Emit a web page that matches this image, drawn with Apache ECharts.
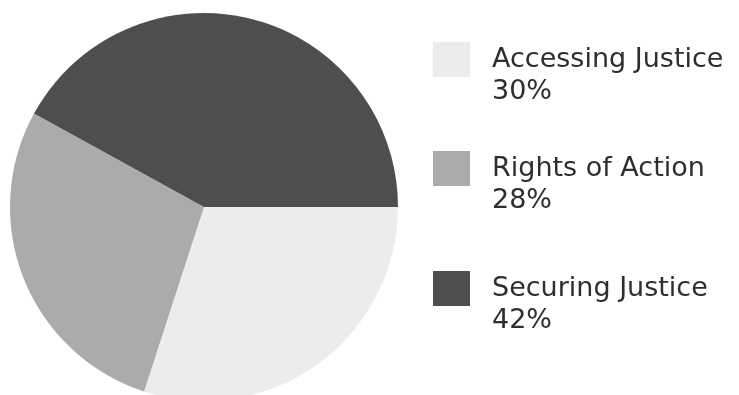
<!DOCTYPE html>
<html>
<head>
<meta charset="utf-8">
<script src="https://cdn.jsdelivr.net/npm/echarts@6/dist/echarts.min.js"></script>
<style>html,body{margin:0;padding:0;background:#fff}#c{width:739px;height:395px}</style>
</head>
<body>
<div id="c"></div>
<script>
const categories = ['Accessing Justice', 'Rights of Action', 'Securing Justice'];
const values = [30, 28, 42];
const colors = ['#ececec', '#ababab', '#4e4e4e'];

const chart = echarts.init(document.getElementById('c'), null, {renderer: 'canvas'});
const pctOf = {};
categories.forEach((c, i) => { pctOf[c] = values[i] + '%'; });

const FONT = 'DejaVu Sans';
const legendTops = [9, 118, 238];
const richStyle = {
  b: {fontSize: 27, lineHeight: 32, fontFamily: FONT, padding: [0,0,0,17]},
  n: {fontSize: 27, lineHeight: 32, fontFamily: FONT, color: '#2e2e2e', padding: [0,0,0,17]},
  p: {fontSize: 27, lineHeight: 32, fontFamily: FONT, color: '#2e2e2e', padding: [0,0,0,17]}
};
chart.setOption({
  animation: false,
  color: colors,
  legend: categories.map((c, i) => ({
    data: [c],
    orient: 'vertical',
    left: 428,
    top: legendTops[i],
    itemWidth: 37,
    itemHeight: 35,
    icon: 'rect',
    selectedMode: false,
    formatter: name => '{b|\u00a0}\n{n|' + name + '}\n{p|' + pctOf[name] + '}',
    textStyle: {rich: richStyle}
  })),
  series: [{
    type: 'pie',
    center: [204, 207],
    radius: [0, 194],
    startAngle: 0,
    clockwise: true,
    label: {show: false},
    labelLine: {show: false},
    silent: true,
    itemStyle: {borderWidth: 0},
    data: categories.map((c, i) => ({name: c, value: values[i]}))
  }]
});
</script>
</body>
</html>
